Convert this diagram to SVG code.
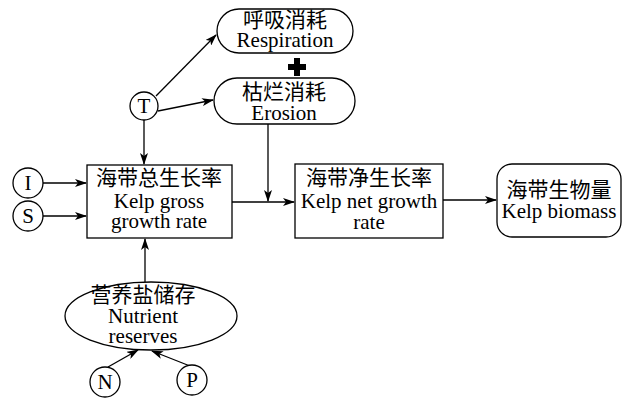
<svg xmlns="http://www.w3.org/2000/svg" width="628" height="399" viewBox="0 0 628 399">
<style>
.s{fill:#fff;stroke:#000;stroke-width:1.3}
.l{fill:none;stroke:#000;stroke-width:1.3}
.t{font-family:"Liberation Serif","Noto Sans CJK SC",serif;font-size:21px;fill:#000;text-anchor:middle}
</style>
<defs>
<marker id="a" markerWidth="12" markerHeight="8" refX="11" refY="4" orient="auto" markerUnits="userSpaceOnUse">
<path d="M0,0 L12,4 L0,8 L3,4 Z" fill="#000"/>
</marker>
</defs>
<rect width="628" height="399" fill="#fff"/>
<g id="connectors">
<line class="l" x1="156" y1="96" x2="216" y2="35" marker-end="url(#a)"/>
<line class="l" x1="158" y1="111" x2="213" y2="100" marker-end="url(#a)"/>
<line class="l" x1="144" y1="120" x2="144" y2="164" marker-end="url(#a)"/>
<line class="l" x1="43" y1="183" x2="86" y2="183" marker-end="url(#a)"/>
<line class="l" x1="43" y1="216" x2="86" y2="216" marker-end="url(#a)"/>
<line class="l" x1="145" y1="282" x2="145" y2="239" marker-end="url(#a)"/>
<line class="l" x1="108" y1="367" x2="138" y2="350" marker-end="url(#a)"/>
<line class="l" x1="190" y1="366" x2="152" y2="351" marker-end="url(#a)"/>
<line class="l" x1="232" y1="202" x2="294" y2="202" marker-end="url(#a)"/>
<line class="l" x1="268" y1="124" x2="268" y2="201" marker-end="url(#a)"/>
<line class="l" x1="443" y1="200" x2="496" y2="200" marker-end="url(#a)"/>
<path id="plus" d="M294,58 h6 v6 h6 v6 h-6 v6 h-6 v-6 h-6 v-6 h6 Z" fill="#000"/>
</g>
<g id="respiration">
<rect class="s" x="217" y="9" width="136" height="44" rx="22"/>
<text class="t" x="285" y="27">呼吸消耗</text>
<text class="t" x="285" y="47">Respiration</text>
</g>
<g id="erosion">
<rect class="s" x="214" y="78" width="141" height="46" rx="23"/>
<text class="t" x="284" y="99">枯烂消耗</text>
<text class="t" x="284" y="120">Erosion</text>
</g>
<g id="T">
<circle class="s" cx="144" cy="106" r="14"/>
<text class="t" x="144" y="113">T</text>
</g>
<g id="I">
<circle class="s" cx="28" cy="183" r="15"/>
<text class="t" x="28" y="190">I</text>
</g>
<g id="S">
<circle class="s" cx="28" cy="216" r="15"/>
<text class="t" x="28" y="223">S</text>
</g>
<g id="gross">
<rect class="s" x="87" y="165" width="145" height="73"/>
<text class="t" x="159" y="185">海带总生长率</text>
<text class="t" x="159" y="208">Kelp gross</text>
<text class="t" x="159" y="228">growth rate</text>
</g>
<g id="net">
<rect class="s" x="295" y="164" width="148" height="74"/>
<text class="t" x="369" y="185">海带净生长率</text>
<text class="t" x="369" y="208">Kelp net growth</text>
<text class="t" x="369" y="229">rate</text>
</g>
<g id="biomass">
<rect class="s" x="497" y="164" width="124" height="73" rx="15"/>
<text class="t" x="559" y="197">海带生物量</text>
<text class="t" x="559" y="218">Kelp biomass</text>
</g>
<g id="nutrient">
<ellipse class="s" cx="151" cy="316" rx="86" ry="34"/>
<text class="t" x="143" y="302">营养盐储存</text>
<text class="t" x="143" y="323">Nutrient</text>
<text class="t" x="143" y="343">reserves</text>
</g>
<g id="N">
<circle class="s" cx="105" cy="382" r="15"/>
<text class="t" x="105" y="389">N</text>
</g>
<g id="P">
<circle class="s" cx="192" cy="380" r="15"/>
<text class="t" x="192" y="387">P</text>
</g>
</svg>
